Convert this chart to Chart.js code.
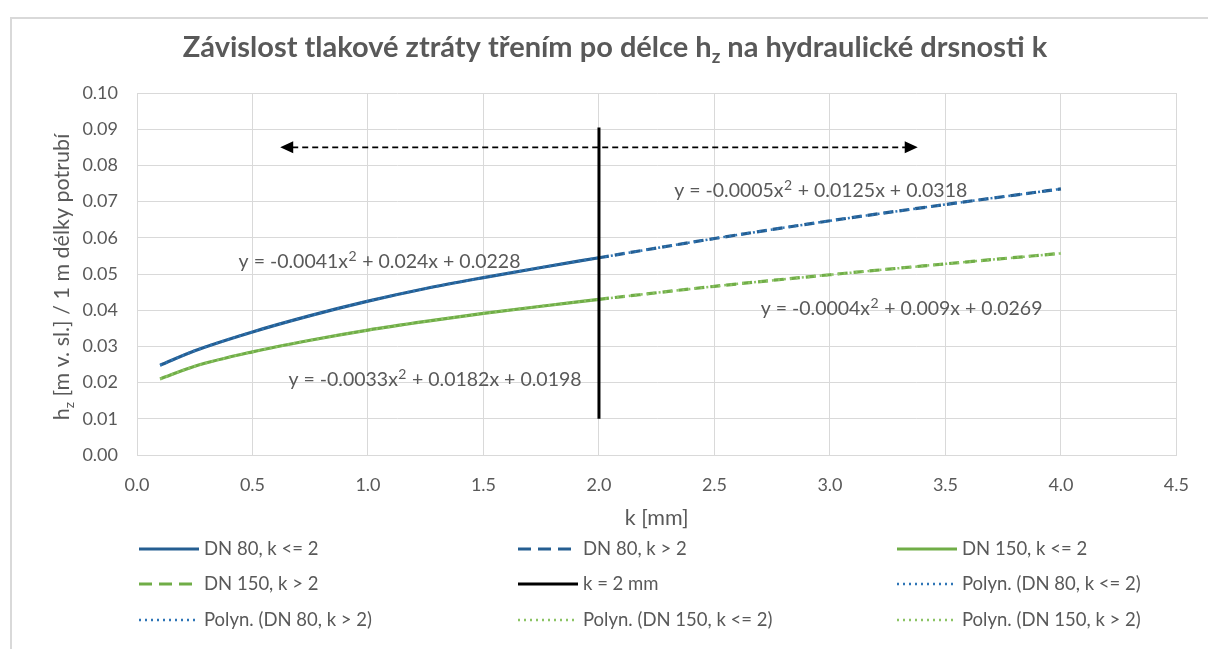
<!DOCTYPE html>
<html>
<head>
<meta charset="utf-8">
<script src="https://cdn.jsdelivr.net/npm/chart.js@4/dist/chart.umd.min.js"></script>
<style>
  html, body { margin: 0; padding: 0; background: #fff; }
  #wrap { position: relative; width: 1208px; height: 649px; }
</style>
</head>
<body>
<div id="wrap"><canvas id="hzChart"></canvas></div>
<script>
// k [mm] and h_z [m v. sl. / 1 m]
const k80Low = [0.1, 0.25, 0.5, 0.75, 1.0, 1.25, 1.5, 1.75, 2.0];
const hz80Low = [0.0248, 0.0288, 0.0340, 0.0385, 0.0425, 0.0460, 0.0490, 0.0518, 0.0545];
const k80High = [2.0, 2.5, 3.0, 3.5, 4.0];
const hz80High = [0.0545, 0.0598, 0.0647, 0.0692, 0.0735];

const k150Low = [0.1, 0.25, 0.5, 0.75, 1.0, 1.25, 1.5, 1.75, 2.0];
const hz150Low = [0.0210, 0.0245, 0.0285, 0.0317, 0.0345, 0.0369, 0.0391, 0.0411, 0.0430];
const k150High = [2.0, 2.5, 3.0, 3.5, 4.0];
const hz150High = [0.0430, 0.0466, 0.0498, 0.0528, 0.0557];

const kLimit = [2.0, 2.0];
const hzLimit = [0.010, 0.0905];

const arrowK = [0.62, 3.38];
const arrowHz = 0.085;

const equations = [
  'y = -0.0041x² + 0.024x + 0.0228',
  'y = -0.0005x² + 0.0125x + 0.0318',
  'y = -0.0004x² + 0.009x + 0.0269',
  'y = -0.0033x² + 0.0182x + 0.0198'
];
const equationAt = [[1.05, 0.0536], [2.96, 0.0732], [3.31, 0.0406], [1.29, 0.021]];

const xTicks = [0, 0.5, 1, 1.5, 2, 2.5, 3, 3.5, 4, 4.5];

const blue = '#255e91', blueTrend = '#2e75b6';
const green = '#70ad47', greenTrend = '#8cc465';
const grey = '#595959';
const FONT = 'Lato, "Open Sans", sans-serif';

const pts = (xs, ys) => xs.map((x, i) => ({ x, y: ys[i] }));

function line(label, xs, ys, color, width, dash, order) {
  return {
    label, data: pts(xs, ys), borderColor: color, backgroundColor: color,
    borderWidth: width, borderDash: dash, pointRadius: 0, showLine: true,
    cubicInterpolationMode: 'monotone', order
  };
}

const datasets = [
  line('DN 80, k <= 2', k80Low, hz80Low, blue, 3.2, [], 2),
  line('DN 80, k > 2', k80High, hz80High, blue, 3.2, [10, 6], 2),
  line('DN 150, k <= 2', k150Low, hz150Low, green, 3.2, [], 2),
  line('DN 150, k > 2', k150High, hz150High, green, 3.2, [10, 6], 2),
  line('k = 2 mm', kLimit, hzLimit, '#000', 3, [], 0),
  line('Polyn. (DN 80, k <= 2)', k80Low, hz80Low, blueTrend, 2.5, [2, 4], 1),
  line('Polyn. (DN 80, k > 2)', k80High, hz80High, blueTrend, 2.5, [2, 4], 1),
  line('Polyn. (DN 150, k <= 2)', k150Low, hz150Low, greenTrend, 2.5, [2, 4], 1),
  line('Polyn. (DN 150, k > 2)', k150High, hz150High, greenTrend, 2.5, [2, 4], 1)
];

// text with subscript z after the leading "h"
function drawSubText(ctx, before, sub, after, x, y, size, bold) {
  const f = (s) => (bold ? 'bold ' : '') + s + 'px ' + FONT;
  ctx.font = f(size);
  const w1 = ctx.measureText(before).width;
  const w3 = ctx.measureText(after).width;
  ctx.font = f(size * 0.65);
  const w2 = ctx.measureText(sub).width;
  let cx = x - (w1 + w2 + w3) / 2;
  ctx.textAlign = 'left';
  ctx.textBaseline = 'alphabetic';
  ctx.font = f(size);
  ctx.fillText(before, cx, y);
  cx += w1;
  ctx.font = f(size * 0.65);
  ctx.fillText(sub, cx, y + size * 0.22);
  cx += w2;
  ctx.font = f(size);
  ctx.fillText(after, cx, y);
}

// equation text with a raised "2" for the square
function drawEquation(ctx, text, x, y, size) {
  const parts = text.split('²');
  const big = size + 'px ' + FONT, small = Math.round(size * 0.7) + 'px ' + FONT;
  ctx.font = big;
  const w1 = ctx.measureText(parts[0]).width, w3 = ctx.measureText(parts[1]).width;
  ctx.font = small;
  const w2 = ctx.measureText('2').width + 1;
  let cx = x - (w1 + w2 + w3) / 2;
  ctx.textAlign = 'left';
  ctx.textBaseline = 'alphabetic';
  ctx.font = big;
  ctx.fillText(parts[0], cx, y);
  cx += w1;
  ctx.font = small;
  ctx.fillText('2', cx + 0.5, y - size * 0.38);
  cx += w2;
  ctx.font = big;
  ctx.fillText(parts[1], cx, y);
}

const extras = {
  id: 'extras',
  beforeDraw(chart) {
    const ctx = chart.ctx;
    ctx.save();
    ctx.strokeStyle = '#d9d9d9';
    ctx.lineWidth = 2;
    ctx.strokeRect(11, 18, 1220, 660);
    ctx.restore();
  },
  afterDatasetsDraw(chart) {
    const { ctx, scales: { x, y } } = chart;
    ctx.save();
    // double arrow
    const y0 = y.getPixelForValue(arrowHz);
    const xa = x.getPixelForValue(arrowK[0]), xb = x.getPixelForValue(arrowK[1]);
    ctx.strokeStyle = '#000';
    ctx.lineWidth = 1.8;
    ctx.setLineDash([6, 4]);
    ctx.beginPath();
    ctx.moveTo(xa + 12, y0);
    ctx.lineTo(xb - 12, y0);
    ctx.stroke();
    ctx.setLineDash([]);
    ctx.fillStyle = '#000';
    ctx.beginPath();
    ctx.moveTo(xa, y0); ctx.lineTo(xa + 13, y0 - 6); ctx.lineTo(xa + 13, y0 + 6); ctx.closePath();
    ctx.moveTo(xb, y0); ctx.lineTo(xb - 13, y0 - 6); ctx.lineTo(xb - 13, y0 + 6); ctx.closePath();
    ctx.fill();
    // trendline equations
    ctx.fillStyle = grey;
    equations.forEach((t, i) => {
      drawEquation(ctx, t, x.getPixelForValue(equationAt[i][0]), y.getPixelForValue(equationAt[i][1]) + 7, 19.5);
    });
    ctx.restore();
  },
  afterDraw(chart) {
    const ctx = chart.ctx;
    ctx.save();
    ctx.fillStyle = grey;
    drawSubText(ctx, 'Závislost tlakové ztráty třením po délce h', 'z',
      ' na hydraulické drsnosti k', 615, 57, 29, true);
    ctx.translate(62, 277);
    ctx.rotate(-Math.PI / 2);
    drawSubText(ctx, 'h', 'z', ' [m v. sl.] / 1 m délky potrubí', 0, 7, 21.5, false);
    ctx.restore();

    // legend, 3 columns
    const colX = [139, 518, 897], rowY = [549, 584, 620];
    ctx.save();
    ctx.font = '18.5px ' + FONT;
    ctx.textBaseline = 'middle';
    ctx.textAlign = 'left';
    datasets.forEach((ds, i) => {
      const lx = colX[i % 3], ly = rowY[Math.floor(i / 3)];
      ctx.strokeStyle = ds.borderColor;
      ctx.lineWidth = ds.borderWidth;
      ctx.setLineDash(ds.borderDash.length ? (ds.borderDash[0] < 4 ? [2, 4] : [13, 7]) : []);
      ctx.beginPath();
      ctx.moveTo(lx, ly);
      ctx.lineTo(lx + 60, ly);
      ctx.stroke();
      ctx.setLineDash([]);
      ctx.fillStyle = grey;
      ctx.fillText(ds.label, lx + 65, ly);
    });
    ctx.restore();
  }
};

new Chart(document.getElementById('hzChart'), {
  type: 'scatter',
  data: { datasets },
  options: {
    responsive: true,
    maintainAspectRatio: false,
    animation: false,
    layout: { padding: { top: 93, left: 0, right: 31, bottom: 109 } },
    plugins: { legend: { display: false }, tooltip: { enabled: false } },
    scales: {
      x: {
        type: 'linear', min: 0, max: 4.5,
        afterFit: (s) => { s.height = 85; },
        afterBuildTicks: (s) => { s.ticks = xTicks.map(v => ({ value: v })); },
        grid: { color: '#d9d9d9', drawTicks: false },
        border: { color: '#d9d9d9' },
        ticks: { color: grey, font: { family: FONT, size: 18 }, padding: 19, callback: v => v.toFixed(1) },
        title: { display: true, text: 'k [mm]', color: grey, font: { family: FONT, size: 21.5 }, padding: { top: 0, bottom: 9 } }
      },
      y: {
        min: 0, max: 0.1,
        afterFit: (s) => { s.width = 137; },
        grid: { color: '#d9d9d9', drawTicks: false },
        border: { color: '#d9d9d9' },
        ticks: { color: grey, font: { family: FONT, size: 18 }, padding: 19, stepSize: 0.01, callback: v => v.toFixed(2) }
      }
    }
  },
  plugins: [extras]
});
</script>
</body>
</html>
